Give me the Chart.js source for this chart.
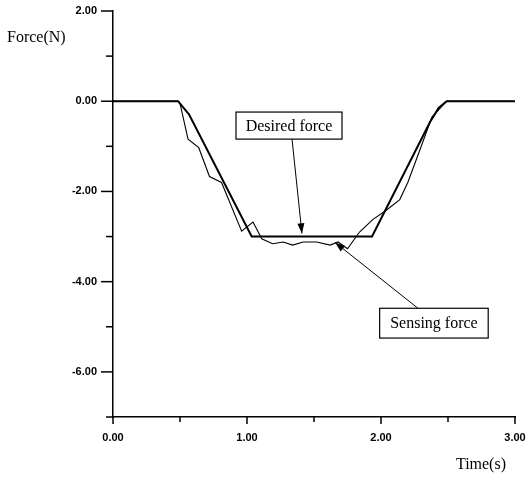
<!DOCTYPE html>
<html>
<head>
<meta charset="utf-8">
<script src="https://cdn.jsdelivr.net/npm/chart.js@4.4.1/dist/chart.umd.min.js"></script>
<style>
  html, body { margin: 0; padding: 0; background: #fff; }
  #wrap { width: 527px; height: 478px; }
</style>
</head>
<body>
<div id="wrap"><canvas id="forceChart" width="527" height="478"></canvas></div>
<script>
// ---- data ----
const desiredT = [0.00, 0.485, 0.567, 1.035, 1.933, 2.366, 2.43, 2.49, 3.00];
const desiredF = [0.00, 0.00, -0.29, -3.00, -3.00, -0.46, -0.15, 0.00, 0.00];

const sensingT = [0.00, 0.49, 0.50, 0.56, 0.64, 0.72, 0.81, 0.96, 1.045, 1.11, 1.19, 1.27, 1.34, 1.42, 1.52, 1.62, 1.68, 1.75, 1.84, 1.94, 2.03, 2.14, 2.20, 2.29, 2.38, 2.49, 2.98];
const sensingF = [0.00, 0.00, -0.05, -0.84, -1.03, -1.67, -1.80, -2.88, -2.68, -3.05, -3.16, -3.12, -3.19, -3.12, -3.12, -3.19, -3.12, -3.27, -2.90, -2.62, -2.44, -2.18, -1.80, -1.08, -0.35, 0.00, 0.00];

const xMajor = [0, 1, 2, 3];
const xMinor = [0.5, 1.5, 2.5];
const yMajor = [2, 0, -2, -4, -6];
const yMinor = [1, -1, -3, -5, -7];
const xLabels = ['0.00', '1.00', '2.00', '3.00'];
const yLabels = ['2.00', '0.00', '-2.00', '-4.00', '-6.00'];

const toXY = (ts, fs) => ts.map((t, i) => ({ x: t, y: fs[i] }));

// annotation boxes / arrows, in data units
const notes = [
  { text: 'Desired force', box: [0.918, -0.24, 1.709, -0.84], from: [1.336, -0.84], to: [1.41, -2.93] },
  { text: 'Sensing force', box: [1.99, -4.59, 2.80, -5.25], from: [2.276, -4.59], to: [1.657, -3.13] }
];

// ---- plugin: ticks, labels, titles, callouts ----
const decorPlugin = {
  id: 'decor',
  afterDraw(chart) {
    const ctx = chart.ctx;
    const xs = chart.scales.x, ys = chart.scales.y;
    const x0 = xs.left, yb = ys.bottom;

    ctx.save();
    ctx.strokeStyle = '#000';
    ctx.fillStyle = '#000';
    ctx.lineWidth = 1.5;
    // y ticks (left of axis)
    yMajor.forEach(v => { const p = ys.getPixelForValue(v); ctx.beginPath(); ctx.moveTo(x0 - 12, p); ctx.lineTo(x0, p); ctx.stroke(); });
    yMinor.forEach(v => { const p = ys.getPixelForValue(v); ctx.beginPath(); ctx.moveTo(x0 - 7, p); ctx.lineTo(x0, p); ctx.stroke(); });
    // x ticks (below axis)
    xMajor.forEach(v => { const p = xs.getPixelForValue(v); ctx.beginPath(); ctx.moveTo(p, yb); ctx.lineTo(p, yb + 7); ctx.stroke(); });
    xMinor.forEach(v => { const p = xs.getPixelForValue(v); ctx.beginPath(); ctx.moveTo(p, yb); ctx.lineTo(p, yb + 5); ctx.stroke(); });

    // tick labels
    ctx.font = 'bold 11px "Liberation Sans", Arial, sans-serif';
    ctx.textBaseline = 'middle';
    ctx.textAlign = 'right';
    yMajor.forEach((v, i) => ctx.fillText(yLabels[i], x0 - 16, ys.getPixelForValue(v)));
    ctx.textAlign = 'center';
    xMajor.forEach((v, i) => ctx.fillText(xLabels[i], xs.getPixelForValue(v), yb + 21));

    // axis titles
    ctx.font = '16px "Liberation Serif", "Times New Roman", serif';
    ctx.textAlign = 'left';
    ctx.fillText('Force(N)', 7, 38);
    ctx.textAlign = 'right';
    ctx.fillText('Time(s)', 506, 465);

    // callouts
    notes.forEach(n => {
      const l = xs.getPixelForValue(n.box[0]), t = ys.getPixelForValue(n.box[1]);
      const r = xs.getPixelForValue(n.box[2]), b = ys.getPixelForValue(n.box[3]);
      ctx.fillStyle = '#fff';
      ctx.fillRect(l, t, r - l, b - t);
      ctx.lineWidth = 1.2;
      ctx.strokeRect(l, t, r - l, b - t);
      ctx.fillStyle = '#000';
      ctx.font = '16px "Liberation Serif", "Times New Roman", serif';
      ctx.textAlign = 'center';
      ctx.fillText(n.text, (l + r) / 2, (t + b) / 2 + 1);

      const fx = xs.getPixelForValue(n.from[0]), fy = ys.getPixelForValue(n.from[1]);
      const tx = xs.getPixelForValue(n.to[0]), ty = ys.getPixelForValue(n.to[1]);
      ctx.lineWidth = 1;
      ctx.beginPath(); ctx.moveTo(fx, fy); ctx.lineTo(tx, ty); ctx.stroke();
      const a = Math.atan2(ty - fy, tx - fx), len = 10, w = 3.5;
      ctx.beginPath();
      ctx.moveTo(tx, ty);
      ctx.lineTo(tx - len * Math.cos(a) + w * Math.sin(a), ty - len * Math.sin(a) - w * Math.cos(a));
      ctx.lineTo(tx - len * Math.cos(a) - w * Math.sin(a), ty - len * Math.sin(a) + w * Math.cos(a));
      ctx.closePath();
      ctx.fill();
    });
    ctx.restore();
  }
};

new Chart(document.getElementById('forceChart'), {
  type: 'line',
  data: {
    datasets: [
      { label: 'Desired force', data: toXY(desiredT, desiredF), borderColor: '#000', borderWidth: 2, pointRadius: 0, tension: 0, fill: false },
      { label: 'Sensing force', data: toXY(sensingT, sensingF), borderColor: '#000', borderWidth: 1.1, pointRadius: 0, tension: 0, fill: false }
    ]
  },
  options: {
    responsive: false,
    animation: false,
    events: [],
    layout: { padding: { left: 0, right: 12, top: 11, bottom: 0 } },
    plugins: { legend: { display: false }, tooltip: { enabled: false } },
    scales: {
      x: {
        type: 'linear', min: 0, max: 3,
        afterFit: s => { s.height = 61; },
        grid: { display: true, drawOnChartArea: false, drawTicks: false },
        border: { display: true, color: '#000', width: 1.5 },
        ticks: { display: false, stepSize: 1 }
      },
      y: {
        type: 'linear', min: -7, max: 2,
        afterFit: s => { s.width = 113; },
        grid: { display: true, drawOnChartArea: false, drawTicks: false },
        border: { display: true, color: '#000', width: 1.5 },
        ticks: { display: false, stepSize: 1 }
      }
    }
  },
  plugins: [decorPlugin]
});
</script>
</body>
</html>
